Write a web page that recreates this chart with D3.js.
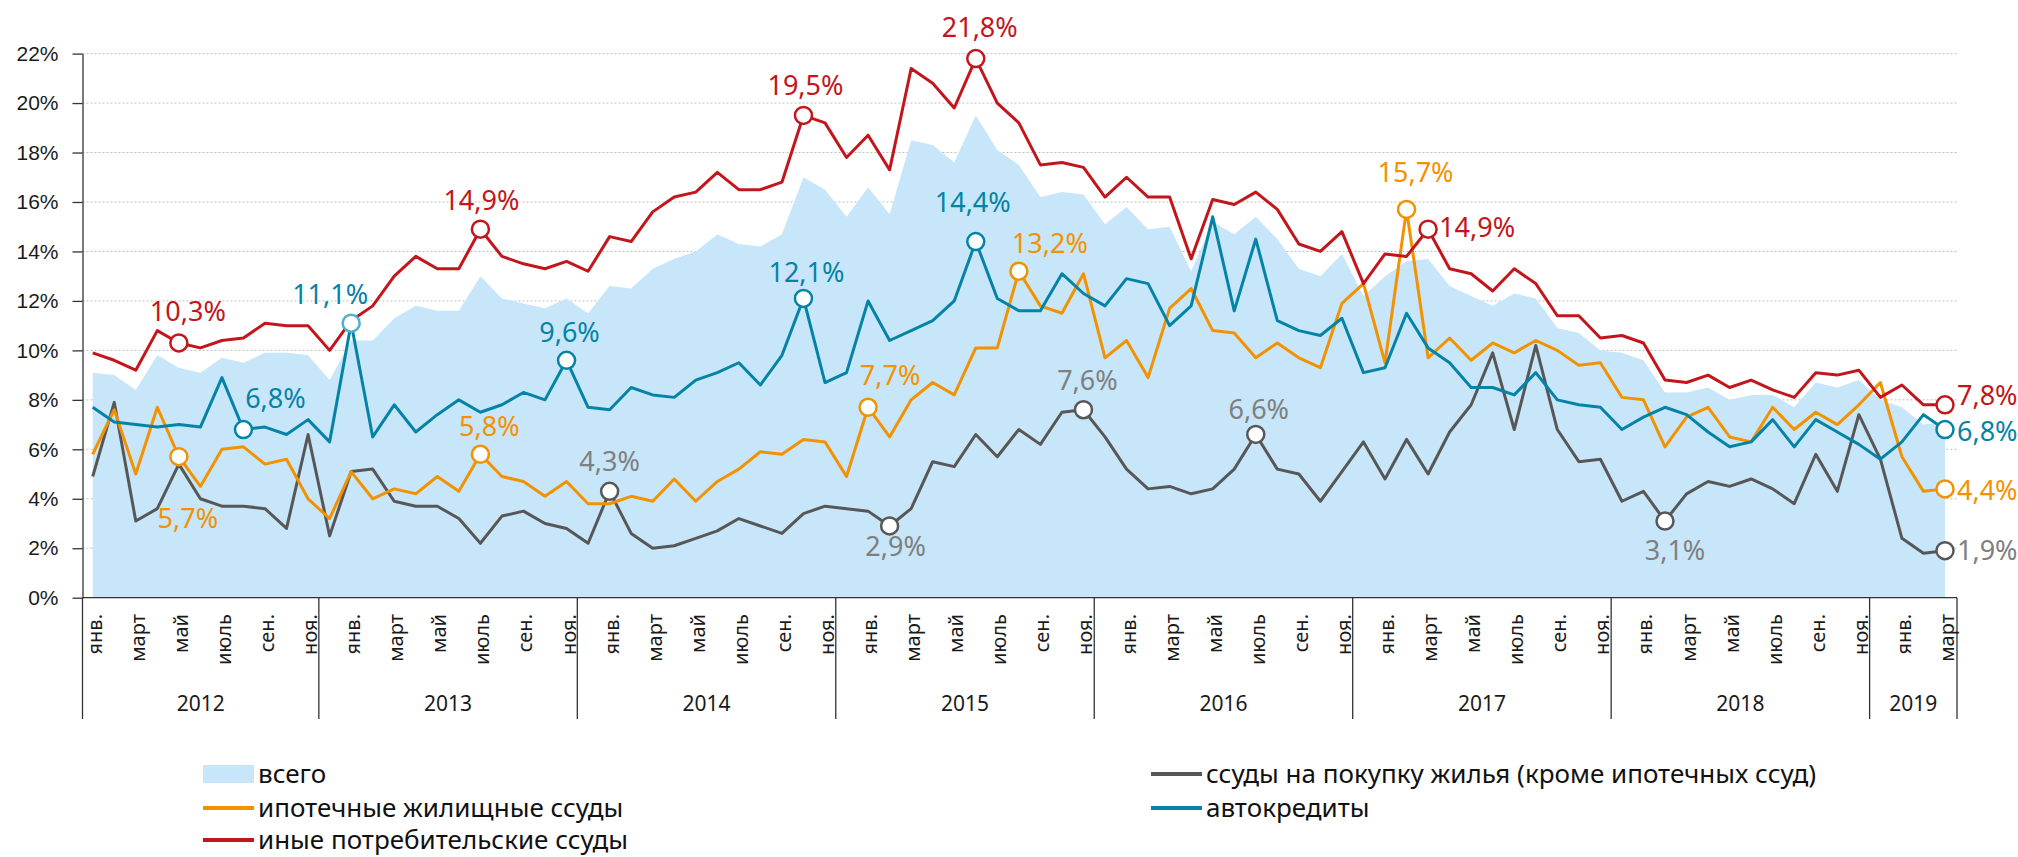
<!DOCTYPE html>
<html lang="ru">
<head>
    <meta charset="UTF-8">
    <script src="https://cdn.jsdelivr.net/npm/d3@7"></script>
    <title>Ссуды</title>
    <style>
        body { margin: 0; background: #fff; }
        svg { display: block; font-family: 'Noto Sans', sans-serif; }
        .grid line { stroke: #bdbdbd; stroke-width: 1; stroke-dasharray: 2 2; }
        .axis text { font-size: 21px; fill: #1a1a1a; }
        .axis path, .axis line { stroke: #333; stroke-width: 1.3; }
        .month { font-size: 20px; fill: #1a1a1a; }
        .year { font-size: 21px; fill: #1a1a1a; }
        .legend text { font-size: 26px; fill: #111; }
        .note { font-size: 27px; }
    </style>
</head>
<body>
<svg id="chart" width="2018" height="857"></svg>

<script>
    // categories
    const years = [2012, 2013, 2014, 2015, 2016, 2017, 2018, 2019];
    const monthNames = ["янв.", "фев.", "март", "апр.", "май", "июнь", "июль", "авг.", "сен.", "окт.", "ноя.", "дек."];
    const monthsInLastYear = 3;
    const yTicks = [0, 2, 4, 6, 8, 10, 12, 14, 16, 18, 20, 22];

    // series, % (Jan 2012 - Mar 2019)
    const total = [
        9.1, 9.0, 8.4, 9.8, 9.3, 9.1, 9.7, 9.5, 9.9, 9.9, 9.8, 8.8,
        10.4, 10.4, 11.3, 11.8, 11.6, 11.6, 13.0, 12.1, 11.9, 11.7, 12.1, 11.5,
        12.6, 12.5, 13.3, 13.7, 14.0, 14.7, 14.3, 14.2, 14.7, 17.0, 16.5, 15.4,
        16.6, 15.5, 18.5, 18.3, 17.6, 19.5, 18.1, 17.5, 16.2, 16.4, 16.3, 15.1,
        15.8, 14.9, 15.0, 13.2, 15.2, 14.7, 15.4, 14.5, 13.3, 13.0, 13.9, 12.2,
        13.0, 13.6, 13.7, 12.6, 12.2, 11.8, 12.3, 12.1, 10.9, 10.7, 10.0, 9.9,
        9.6, 8.3, 8.3, 8.5, 8.0, 8.2, 8.2, 7.7, 8.7, 8.5, 8.8, 8.0,
        7.7, 7.0, 7.1
    ];
    const housing = [
        4.9, 7.9, 3.1, 3.6, 5.4, 4.0, 3.7, 3.7, 3.6, 2.8, 6.6, 2.5,
        5.1, 5.2, 3.9, 3.7, 3.7, 3.2, 2.2, 3.3, 3.5, 3.0, 2.8, 2.2,
        4.3, 2.6, 2.0, 2.1, 2.4, 2.7, 3.2, 2.9, 2.6, 3.4, 3.7, 3.6,
        3.5, 2.9, 3.6, 5.5, 5.3, 6.6, 5.7, 6.8, 6.2, 7.5, 7.6, 6.5,
        5.2, 4.4, 4.5, 4.2, 4.4, 5.2, 6.6, 5.2, 5.0, 3.9, 5.1, 6.3,
        4.8, 6.4, 5.0, 6.7, 7.8, 9.9, 6.8, 10.2, 6.8, 5.5, 5.6, 3.9,
        4.3, 3.1, 4.2, 4.7, 4.5, 4.8, 4.4, 3.8, 5.8, 4.3, 7.4, 5.6,
        2.4, 1.8, 1.9
    ];
    const mortgage = [
        5.8, 7.6, 5.0, 7.7, 5.7, 4.5, 6.0, 6.1, 5.4, 5.6, 4.0, 3.2,
        5.1, 4.0, 4.4, 4.2, 4.9, 4.3, 5.8, 4.9, 4.7, 4.1, 4.7, 3.8,
        3.8, 4.1, 3.9, 4.8, 3.9, 4.7, 5.2, 5.9, 5.8, 6.4, 6.3, 4.9,
        7.7, 6.5, 8.0, 8.7, 8.2, 10.1, 10.1, 13.2, 11.8, 11.5, 13.1, 9.7,
        10.4, 8.9, 11.7, 12.5, 10.8, 10.7, 9.7, 10.3, 9.7, 9.3, 11.9, 12.7,
        9.5, 15.7, 9.7, 10.5, 9.6, 10.3, 9.9, 10.4, 10.0, 9.4, 9.5, 8.1,
        8.0, 6.1, 7.3, 7.7, 6.5, 6.3, 7.7, 6.8, 7.5, 7.0, 7.8, 8.7,
        5.7, 4.3, 4.4
    ];
    const auto = [
        7.7, 7.1, 7.0, 6.9, 7.0, 6.9, 8.9, 6.8, 6.9, 6.6, 7.2, 6.3,
        11.1, 6.5, 7.8, 6.7, 7.4, 8.0, 7.5, 7.8, 8.3, 8.0, 9.6, 7.7,
        7.6, 8.5, 8.2, 8.1, 8.8, 9.1, 9.5, 8.6, 9.8, 12.1, 8.7, 9.1,
        12.0, 10.4, 10.8, 11.2, 12.0, 14.4, 12.1, 11.6, 11.6, 13.1, 12.3, 11.8,
        12.9, 12.7, 11.0, 11.8, 15.4, 11.6, 14.5, 11.2, 10.8, 10.6, 11.3, 9.1,
        9.3, 11.5, 10.1, 9.5, 8.5, 8.5, 8.2, 9.1, 8.0, 7.8, 7.7, 6.8,
        7.3, 7.7, 7.4, 6.7, 6.1, 6.3, 7.2, 6.1, 7.2, 6.7, 6.2, 5.6,
        6.3, 7.4, 6.8
    ];
    const other = [
        9.9, 9.6, 9.2, 10.8, 10.3, 10.1, 10.4, 10.5, 11.1, 11.0, 11.0, 10.0,
        11.2, 11.8, 13.0, 13.8, 13.3, 13.3, 14.9, 13.8, 13.5, 13.3, 13.6, 13.2,
        14.6, 14.4, 15.6, 16.2, 16.4, 17.2, 16.5, 16.5, 16.8, 19.5, 19.2, 17.8,
        18.7, 17.3, 21.4, 20.8, 19.8, 21.8, 20.0, 19.2, 17.5, 17.6, 17.4, 16.2,
        17.0, 16.2, 16.2, 13.7, 16.1, 15.9, 16.4, 15.7, 14.3, 14.0, 14.8, 12.7,
        13.9, 13.8, 14.9, 13.3, 13.1, 12.4, 13.3, 12.7, 11.4, 11.4, 10.5, 10.6,
        10.3, 8.8, 8.7, 9.0, 8.5, 8.8, 8.4, 8.1, 9.1, 9.0, 9.2, 8.1,
        8.6, 7.8, 7.8
    ];

    // months with a marked value
    const highlights = {
        other: [4, 18, 33, 41, 62, 86],
        auto: [7, 12, 22, 33, 41, 86],
        mortgage: [4, 18, 36, 43, 61, 86],
        housing: [24, 37, 46, 54, 73, 86]
    };

    const legendNames = {
        total: "всего",
        mortgage: "ипотечные жилищные ссуды",
        other: "иные потребительские ссуды",
        housing: "ссуды на покупку жилья (кроме ипотечных ссуд)",
        auto: "автокредиты"
    };

    const categories = years.flatMap(y =>
        monthNames.slice(0, y === years[years.length - 1] ? monthsInLastYear : 12)
            .map((m, i) => ({ year: y, month: i, label: m })));

    const series = { total, housing, mortgage, auto, other };
    const colors = {
        total: "#c8e6f9",
        housing: "#575757",
        mortgage: "#f39200",
        auto: "#0583a7",
        other: "#c3161c"
    };
    const textColors = { housing: "#7f7f7f", mortgage: "#f39200", auto: "#0583a7", other: "#c3161c" };

    // label placement next to the circles: [dx, dy, anchor]
    const notePlace = {
        other: { 4: [9, -22], 18: [1, -19], 33: [2, -20], 41: [4, -22], 62: [11, 8, "start"], 86: [12, 0, "start"] },
        auto: { 7: [32, -22], 12: [-21, -19], 22: [3, -18], 33: [3, -16], 41: [-3, -30], 86: [12, 11, "start"] },
        mortgage: { 4: [9, 71], 18: [9, -18], 36: [22, -22], 43: [31, -18], 61: [9, -27], 86: [12, 11, "start"] },
        housing: { 24: [0, -20], 37: [6, 30], 46: [4, -20], 54: [3, -15], 73: [10, 39], 86: [12, 9, "start"] }
    };

    const svg = d3.select("#chart");
    const left = 82.5, right = 1957;
    const yBottom = 597.7, yTop = 53.6, axisBottom = 719;

    const x = d3.scalePoint()
        .domain(d3.range(categories.length))
        .range([92.7, 1945]);
    const step = x.step();

    const y = d3.scaleLinear()
        .domain([0, 22])
        .range([yBottom, yTop]);

    // gridlines
    svg.append("g").attr("class", "grid")
        .selectAll("line")
        .data(yTicks.filter(d => d > 0))
        .join("line")
        .attr("x1", left).attr("x2", right)
        .attr("y1", d => y(d)).attr("y2", d => y(d));

    // total area
    const area = d3.area()
        .x((d, i) => x(i))
        .y0(y(0))
        .y1(d => y(d));
    svg.append("path")
        .datum(total)
        .attr("d", area)
        .attr("fill", colors.total);

    // lines
    const line = d3.line()
        .x((d, i) => x(i))
        .y(d => y(d));
    ["housing", "mortgage", "auto", "other"].forEach(key => {
        svg.append("path")
            .datum(series[key])
            .attr("d", line)
            .attr("fill", "none")
            .attr("stroke", colors[key])
            .attr("stroke-width", 3)
            .attr("stroke-linejoin", "round");
    });

    // y axis
    svg.append("g").attr("class", "axis")
        .attr("transform", `translate(${left},0)`)
        .call(d3.axisLeft(y).tickValues(yTicks).tickFormat(d => d + "%").tickSize(10).tickSizeOuter(0).tickPadding(14));

    // x axis line + category frame
    const frame = svg.append("g").attr("class", "axis");
    frame.append("line")
        .attr("x1", left).attr("x2", right)
        .attr("y1", yBottom).attr("y2", yBottom);
    frame.append("line")
        .attr("x1", left).attr("x2", left)
        .attr("y1", yBottom).attr("y2", axisBottom);

    // year boundaries
    const yearStart = years.map(yr => categories.findIndex(c => c.year === yr));
    const bounds = yearStart.slice(1).map(i => x(i) - 1.5 * step);
    const edges = [left, ...bounds, right];
    frame.selectAll(".sep")
        .data(edges.slice(1))
        .join("line")
        .attr("class", "sep")
        .attr("x1", d => d).attr("x2", d => d)
        .attr("y1", yBottom).attr("y2", axisBottom)
        .attr("stroke-width", 1);

    svg.selectAll(".year")
        .data(years)
        .join("text")
        .attr("class", "year")
        .attr("x", (d, i) => (edges[i] + edges[i + 1]) / 2)
        .attr("y", 711)
        .attr("text-anchor", "middle")
        .text(d => d);

    // month labels, every second month
    svg.selectAll(".month")
        .data(categories.map((c, i) => ({ ...c, i })).filter(c => c.month % 2 === 0))
        .join("text")
        .attr("class", "month")
        .attr("transform", d => `translate(${x(d.i)},614) rotate(-90)`)
        .attr("dy", "0.45em")
        .attr("text-anchor", "end")
        .text(d => d.label);

    // marked values
    const fmt = v => d3.format(".1f")(v).replace(".", ",") + "%";
    Object.entries(highlights).forEach(([key, idx]) => {
        idx.forEach(i => {
            const v = series[key][i];
            const cx = x(i), cy = y(v);
            const p = notePlace[key][i] || [3, -20];
            svg.append("circle")
                .attr("cx", cx).attr("cy", cy).attr("r", 8.5)
                .attr("fill", "#fff")
                .attr("stroke", key === "auto" && i === 12 ? "#4fb0cf" : colors[key])
                .attr("stroke-width", 2.5);
            svg.append("text")
                .attr("class", "note")
                .attr("x", cx + p[0]).attr("y", cy + p[1])
                .attr("text-anchor", p[2] || "middle")
                .attr("fill", textColors[key])
                .text(fmt(v));
        });
    });

    // legend
    const legend = svg.append("g").attr("class", "legend");
    const legendCols = [["total", "mortgage", "other"], ["housing", "auto"]];
    const colX = [203, 1151];
    const rowY = [774, 808, 840];
    legendCols.forEach((keys, c) => {
        keys.forEach((key, r) => {
            const g = legend.append("g").attr("transform", `translate(${colX[c]},${rowY[r]})`);
            if (key === "total") {
                g.append("rect").attr("x", 0).attr("y", -9).attr("width", 51).attr("height", 18)
                    .attr("fill", colors.total);
            } else {
                g.append("line").attr("x1", 0).attr("x2", 51).attr("y1", 0).attr("y2", 0)
                    .attr("stroke", colors[key]).attr("stroke-width", 4);
            }
            g.append("text")
                .attr("x", 55)
                .attr("dy", "0.35em")
                .text(legendNames[key]);
        });
    });
</script>
</body>
</html>
